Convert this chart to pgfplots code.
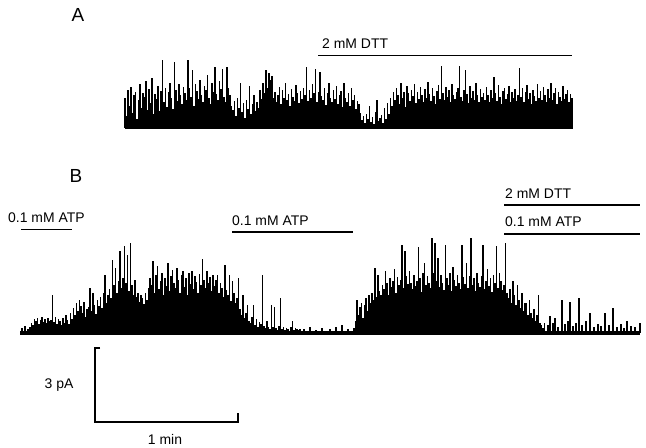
\documentclass[border=0pt]{standalone}
\usepackage{pgfplots}
\pgfplotsset{compat=1.18}
\usepackage{fontspec}
\setmainfont{Liberation Sans}
\newcommand{\lab}{\fontsize{14}{16}\selectfont}
\newcommand{\panlab}{\fontsize{19}{21}\selectfont}
\begin{document}
\begin{tikzpicture}
% ---------- overlay axis in image pixel coordinates ----------
\begin{axis}[at={(0,0)}, anchor=south west, scale only axis,
  width=646bp, height=448bp, xmin=0, xmax=646, ymin=0, ymax=448,
  y dir=reverse, hide axis, clip=false]
\addplot[draw=none] coordinates {(0,0) (646,448)};
% panel letters
\node[font=\panlab] at (axis cs:78,15) {A};
\node[font=\panlab] at (axis cs:76,176) {B};
% panel A bar
\addplot[line width=1.8bp] coordinates {(318,55.5) (572,55.5)};
\node[font=\lab, anchor=base west, inner sep=0pt] at (axis cs:322,49) {2 mM DTT};
% panel B bars
\addplot[line width=1.8bp] coordinates {(21,229.5) (72,229.5)};
\node[font=\lab, anchor=base west, inner sep=0pt] at (axis cs:8,222) {0.1 mM ATP};
\addplot[line width=1.8bp] coordinates {(232,232) (353,232)};
\node[font=\lab, anchor=base west, inner sep=0pt] at (axis cs:232,225) {0.1 mM ATP};
\addplot[line width=1.8bp] coordinates {(504,205) (640,205)};
\node[font=\lab, anchor=base west, inner sep=0pt] at (axis cs:505,198) {2 mM DTT};
\addplot[line width=1.8bp] coordinates {(504,234) (640,234)};
\node[font=\lab, anchor=base west, inner sep=0pt] at (axis cs:505,226) {0.1 mM ATP};
% scale bar
\addplot[line width=1.4bp] coordinates {(100,348) (95,348) (95,422) (238,422) (238,413)};
\node[font=\lab] at (axis cs:59,385) {3 pA};
\node[font=\lab] at (axis cs:165,439) {1 min};
\end{axis}

% ---------- trace A (y = pixels above baseline) ----------
\begin{axis}[at={(125bp,320bp)}, anchor=south west, scale only axis,
  width=448bp, height=70bp, xmin=125, xmax=573, ymin=0, ymax=70,
  hide axis, clip=false]
\addplot[line width=2.8bp] coordinates {(125,0) (573,0)};
\addplot[ycomb, line width=1.2bp, mark=none] table[row sep=\\, header=false, x expr=125+1.5*\coordindex, y index=0] {
30\\12\\38\\22\\41\\15\\33\\36\\9\\28\\44\\20\\35\\31\\47\\18\\39\\25\\50\\14\\
34\\29\\42\\17\\37\\68\\26\\40\\21\\36\\45\\30\\19\\66\\38\\27\\44\\33\\24\\41\\
35\\28\\68\\40\\31\\58\\22\\44\\37\\29\\48\\33\\26\\42\\38\\53\\30\\24\\45\\36\\
61\\34\\28\\47\\39\\59\\31\\26\\61\\40\\33\\22\\18\\27\\12\\30\\20\\45\\16\\25\\
10\\28\\19\\42\\14\\24\\33\\17\\26\\20\\38\\29\\45\\35\\58\\40\\55\\48\\52\\30\\
36\\26\\33\\41\\24\\38\\30\\45\\28\\34\\22\\39\\31\\27\\43\\35\\25\\37\\29\\40\\
33\\61\\27\\38\\30\\44\\35\\59\\26\\36\\56\\32\\28\\40\\23\\35\\45\\30\\26\\38\\
29\\42\\24\\33\\37\\21\\45\\30\\26\\35\\22\\40\\28\\33\\19\\27\\24\\15\\8\\12\\
5\\14\\9\\22\\6\\11\\4\\16\\28\\7\\10\\13\\5\\20\\9\\25\\14\\30\\22\\36\\
28\\40\\33\\24\\45\\30\\36\\21\\42\\35\\27\\38\\32\\44\\25\\36\\29\\41\\33\\26\\
39\\30\\46\\34\\27\\40\\32\\24\\37\\43\\29\\62\\35\\28\\41\\31\\38\\26\\44\\33\\
29\\36\\40\\62\\31\\27\\38\\58\\34\\25\\42\\30\\37\\28\\45\\33\\26\\39\\31\\35\\
28\\41\\33\\26\\38\\30\\51\\35\\27\\43\\31\\24\\37\\40\\29\\34\\42\\26\\36\\30\\
39\\27\\33\\60\\31\\40\\26\\36\\43\\29\\35\\24\\38\\32\\27\\44\\30\\37\\28\\41\\
33\\26\\39\\30\\45\\28\\35\\40\\24\\36\\31\\27\\42\\29\\34\\38\\26\\34\\30\\
};
\end{axis}

% ---------- trace B ----------
\begin{axis}[at={(20bp,115bp)}, anchor=south west, scale only axis,
  width=620bp, height=100bp, xmin=20, xmax=640, ymin=0, ymax=100,
  hide axis, clip=false]
\addplot[line width=3.6bp] coordinates {(20,0) (640,0)};
\addplot[ycomb, line width=1.2bp, mark=none] table[row sep=\\, header=false, x expr=30+1.5*\coordindex, y index=0] {
6\\10\\8\\14\\12\\15\\9\\13\\16\\11\\14\\10\\15\\12\\13\\38\\11\\16\\9\\14\\
12\\8\\15\\10\\18\\13\\9\\20\\14\\25\\18\\30\\22\\33\\27\\20\\31\\16\\24\\26\\
45\\22\\40\\28\\19\\33\\27\\36\\25\\40\\58\\30\\38\\44\\35\\73\\48\\65\\40\\52\\
82\\45\\55\\87\\50\\78\\42\\90\\48\\38\\53\\36\\40\\31\\38\\35\\29\\40\\33\\45\\
55\\48\\72\\40\\58\\67\\44\\52\\60\\38\\55\\47\\70\\42\\57\\63\\50\\45\\65\\53\\
40\\58\\62\\46\\55\\38\\60\\49\\62\\44\\57\\51\\40\\59\\48\\74\\53\\45\\62\\50\\
56\\42\\58\\47\\53\\58\\40\\50\\45\\36\\68\\43\\38\\58\\32\\52\\40\\30\\35\\55\\
24\\18\\38\\15\\20\\28\\12\\10\\16\\28\\8\\14\\6\\11\\9\\58\\7\\5\\12\\6\\
4\\28\\6\\26\\5\\3\\7\\35\\4\\6\\3\\5\\4\\2\\6\\12\\3\\5\\4\\3\\
4\\
};
\addplot[ycomb, line width=1.2bp, mark=none] table[row sep=\\, header=false, x expr=354+1.5*\coordindex, y index=0] {
5\\12\\33\\18\\26\\30\\15\\28\\35\\22\\38\\30\\40\\33\\65\\36\\58\\42\\38\\48\\
44\\62\\50\\38\\55\\46\\52\\64\\40\\56\\48\\53\\88\\45\\82\\57\\49\\62\\50\\44\\
58\\47\\52\\86\\55\\41\\60\\70\\48\\57\\50\\45\\95\\60\\90\\52\\75\\46\\58\\50\\
43\\88\\55\\48\\60\\42\\66\\53\\47\\58\\50\\44\\88\\56\\49\\70\\45\\57\\95\\48\\
55\\42\\60\\50\\46\\57\\88\\44\\52\\64\\47\\55\\41\\58\\50\\87\\45\\60\\52\\43\\
48\\90\\40\\35\\44\\30\\52\\38\\28\\48\\33\\25\\40\\22\\30\\30\\18\\33\\20\\15\\
24\\12\\18\\38\\10\\8\\5\\10\\
};
\addplot[ycomb, line width=1.1bp, mark=none] coordinates {
(22,5) (25,7) (28,4)
(304,4) (310,6) (316,3) (322,5) (330,4) (336,6) (342,8) (348,4)
(548,8) (550,17) (553,10) (555,15) (558,6) (562,33) (565,9) (568,12) (570,31)
(573,7) (576,10) (579,35) (582,8) (586,12) (590,20) (594,6) (598,9) (601,7)
(605,20) (609,8) (613,25) (617,6) (621,9) (624,5) (627,12) (631,7) (635,6) (640,10)
};
\end{axis}
\end{tikzpicture}
\end{document}
